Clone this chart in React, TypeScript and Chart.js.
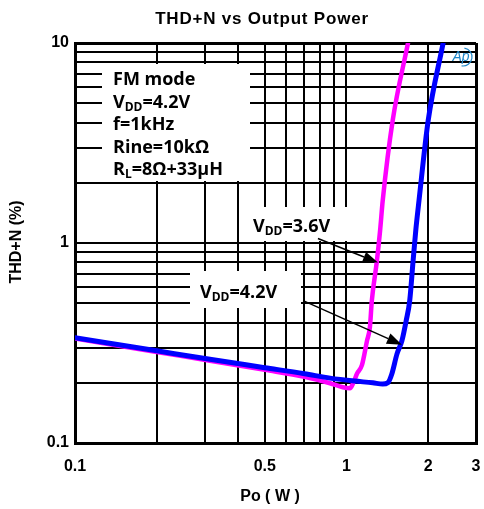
import React, { useEffect, useRef } from "react";
import { Chart, registerables } from "chart.js";

Chart.register(...registerables);

// ---- data ----
const vdd42Po = [0.1, 0.2, 0.314, 0.5, 0.7, 0.87, 1.07, 1.25, 1.36, 1.42, 1.47, 1.535, 1.6, 1.66, 1.71, 1.76, 1.8, 1.85, 2.0, 2.27];
const vdd42Thd = [0.336, 0.289, 0.262, 0.238, 0.222, 0.211, 0.204, 0.2, 0.197, 0.2, 0.222, 0.279, 0.324, 0.41, 0.515, 0.817, 1.155, 1.63, 4.1, 10];
const vdd36Po = [0.1, 0.2, 0.314, 0.5, 0.7, 0.87, 0.97, 1.03, 1.06, 1.093, 1.14, 1.19, 1.22, 1.24, 1.295, 1.33, 1.36, 1.48, 1.685];
const vdd36Thd = [0.333, 0.285, 0.258, 0.232, 0.214, 0.199, 0.19, 0.188, 0.2, 0.222, 0.245, 0.324, 0.38, 0.515, 0.817, 1.155, 1.63, 4.1, 10];

const xGrid = [0.1, 0.2, 0.3, 0.4, 0.5, 0.6, 0.7, 0.8, 0.9, 1, 2, 3];
const xLabels = [0.1, 0.5, 1, 2, 3];
const yGrid = [0.1, 0.2, 0.3, 0.4, 0.5, 0.6, 0.7, 0.8, 0.9, 1, 2, 3, 4, 5, 6, 7, 8, 9, 10];
const yLabels = [0.1, 1, 10];

const chartTitle = "THD+N vs Output Power";
const xTitle = "Po ( W )";
const yTitle = "THD+N (%)";

// rich text: [text, isSubscript]
const conditionLines: [string, boolean][][] = [
  [["FM mode", false]],
  [["V", false], ["DD", true], ["=4.2V", false]],
  [["f=1kHz", false]],
  [["Rine=10kΩ", false]],
  [["R", false], ["L", true], ["=8Ω+33μH", false]],
];
const label36: [string, boolean][] = [["V", false], ["DD", true], ["=3.6V", false]];
const label42: [string, boolean][] = [["V", false], ["DD", true], ["=4.2V", false]];

// arrows in data coordinates [Po, THD]
const arrow36From = [0.785, 1.053];
const arrow36To = [1.306, 0.798];
const arrow42From = [0.692, 0.515];
const arrow42To = [1.6, 0.31];

const FONT_MAIN = "Arial, 'Liberation Sans', sans-serif";
const FONT_NOTE = "'Open Sans', sans-serif";

function drawRich(ctx: CanvasRenderingContext2D, parts: [string, boolean][], x: number, y: number, size: number) {
  let cx = x;
  ctx.textAlign = "left";
  ctx.textBaseline = "alphabetic";
  for (const [t, sub] of parts) {
    if (sub) {
      ctx.font = `bold ${Math.round(size * 0.68)}px ${FONT_NOTE}`;
      ctx.fillText(t, cx, y + 3);
    } else {
      ctx.font = `bold ${size}px ${FONT_NOTE}`;
      ctx.fillText(t, cx, y);
    }
    cx += ctx.measureText(t).width;
  }
}

function drawArrow(ctx: CanvasRenderingContext2D, x1: number, y1: number, x2: number, y2: number) {
  const ang = Math.atan2(y2 - y1, x2 - x1);
  const len = 15;
  const hw = 5.5;
  const bx = x2 - len * Math.cos(ang);
  const by = y2 - len * Math.sin(ang);
  ctx.save();
  ctx.strokeStyle = "#000";
  ctx.fillStyle = "#000";
  ctx.lineWidth = 1.5;
  ctx.beginPath();
  ctx.moveTo(x1, y1);
  ctx.lineTo(bx, by);
  ctx.stroke();
  ctx.beginPath();
  ctx.moveTo(x2, y2);
  ctx.lineTo(bx + hw * Math.sin(ang), by - hw * Math.cos(ang));
  ctx.lineTo(bx - hw * Math.sin(ang), by + hw * Math.cos(ang));
  ctx.closePath();
  ctx.fill();
  ctx.restore();
}

const decorPlugin = {
  id: "decor",
  beforeDatasetsDraw(chart: any) {
    const { ctx, chartArea: a } = chart;
    ctx.save();
    ctx.fillStyle = "#fff";
    // white boxes behind notes
    ctx.fillRect(a.left + 27, a.top + 21, 148, 117);
    ctx.fillRect(a.left + 175, a.top + 164, 100, 34);
    ctx.fillRect(a.left + 115, a.top + 228, 111, 37);
    ctx.restore();
  },
  afterDatasetsDraw(chart: any) {
    const { ctx, chartArea: a, scales } = chart;
    const sx = scales.x;
    const sy = scales.y;
    ctx.save();
    ctx.fillStyle = "#000";
    conditionLines.forEach((ln, i) => {
      drawRich(ctx, ln, a.left + 38, a.top + 42 + i * 22.5, 18);
    });
    drawRich(ctx, label36, a.left + 178, a.top + 189, 18);
    drawRich(ctx, label42, a.left + 125, a.top + 255, 18);
    drawArrow(ctx, sx.getPixelForValue(arrow36From[0]), sy.getPixelForValue(arrow36From[1]), sx.getPixelForValue(arrow36To[0]), sy.getPixelForValue(arrow36To[1]));
    drawArrow(ctx, sx.getPixelForValue(arrow42From[0]), sy.getPixelForValue(arrow42From[1]), sx.getPixelForValue(arrow42To[0]), sy.getPixelForValue(arrow42To[1]));
    ctx.restore();
  },
  afterDraw(chart: any) {
    const { ctx, chartArea: a } = chart;
    ctx.save();
    ctx.fillStyle = "#000";
    ctx.textAlign = "center";
    ctx.textBaseline = "middle";
    ctx.font = `bold 17px ${FONT_MAIN}`;
    (ctx as any).letterSpacing = "0.8px";
    ctx.fillText(chartTitle, 262, 19);
    (ctx as any).letterSpacing = "0px";
    ctx.font = `bold 16px ${FONT_MAIN}`;
    ctx.fillText(xTitle, 270, 497);
    ctx.save();
    ctx.translate(17, 242);
    ctx.rotate(-Math.PI / 2);
    ctx.fillText(yTitle, 0, 0);
    ctx.restore();
    // AP logo
    ctx.fillStyle = "#1f86c8";
    ctx.strokeStyle = "#1f86c8";
    ctx.font = `italic 14px ${FONT_MAIN}`;
    ctx.fillText("Ap", a.right - 15, a.top + 14);
    ctx.lineWidth = 1.2;
    ctx.beginPath();
    ctx.arc(a.right - 13, a.top + 14, 9, -Math.PI * 0.45, Math.PI * 0.55);
    ctx.stroke();
    ctx.restore();
  },
};

export default function App() {
  const ref = useRef<HTMLCanvasElement | null>(null);
  useEffect(() => {
    document.body.style.margin = "0";
    const canvas = ref.current!;
    const edgeWidth = (edges: number[]) => (c: any) =>
      c.tick && edges.includes(c.tick.value) ? 3 : 2;
    const chart = new Chart(canvas, {
      type: "line",
      data: {
        datasets: [
          {
            label: "VDD=4.2V",
            data: vdd42Po.map((x, i) => ({ x, y: vdd42Thd[i] })),
            borderColor: "#0000ff",
            borderWidth: 5,
            pointRadius: 0,
            cubicInterpolationMode: "monotone",
            borderCapStyle: "round",
            borderJoinStyle: "round",
          },
          {
            label: "VDD=3.6V",
            data: vdd36Po.map((x, i) => ({ x, y: vdd36Thd[i] })),
            borderColor: "#ff00ff",
            borderWidth: 4.5,
            pointRadius: 0,
            cubicInterpolationMode: "monotone",
            borderCapStyle: "round",
            borderJoinStyle: "round",
          },
        ],
      },
      options: {
        animation: false,
        responsive: false,
        maintainAspectRatio: false,
        layout: { padding: { top: 43, right: 8, left: 0, bottom: 0 } },
        plugins: { legend: { display: false }, title: { display: false }, tooltip: { enabled: false } },
        scales: {
          x: {
            type: "logarithmic",
            min: 0.1,
            max: 3,
            afterBuildTicks: (s: any) => {
              s.ticks = xGrid.map((v) => ({ value: v }));
            },
            afterFit: (s: any) => {
              s.height = 66;
              s.paddingLeft = 0;
              s.paddingRight = 0;
            },
            ticks: {
              autoSkip: false,
              maxRotation: 0,
              padding: 14,
              color: "#000",
              font: { family: FONT_MAIN, size: 16, weight: "bold" },
              callback: (v: any) => (xLabels.includes(Number(v)) ? String(v) : ""),
            },
            grid: { color: "#000", lineWidth: edgeWidth([0.1, 3]), drawTicks: false },
            border: { display: true, color: "#000", width: 3 },
          },
          y: {
            type: "logarithmic",
            min: 0.1,
            max: 10,
            afterBuildTicks: (s: any) => {
              s.ticks = yGrid.map((v) => ({ value: v }));
            },
            afterFit: (s: any) => {
              s.width = 75;
              s.paddingTop = 0;
              s.paddingBottom = 0;
            },
            ticks: {
              autoSkip: false,
              padding: 6,
              color: "#000",
              font: { family: FONT_MAIN, size: 16, weight: "bold" },
              callback: (v: any) => (yLabels.includes(Number(v)) ? String(v) : ""),
            },
            grid: { color: "#000", lineWidth: edgeWidth([0.1, 10]), drawTicks: false },
            border: { display: true, color: "#000", width: 3 },
          },
        },
      },
      plugins: [decorPlugin],
    });
    return () => chart.destroy();
  }, []);
  return (
    <div style={{ width: 484, height: 509, position: "relative" }}>
      <canvas ref={ref} width={484} height={509} style={{ display: "block", width: 484, height: 509 }} />
    </div>
  );
}
